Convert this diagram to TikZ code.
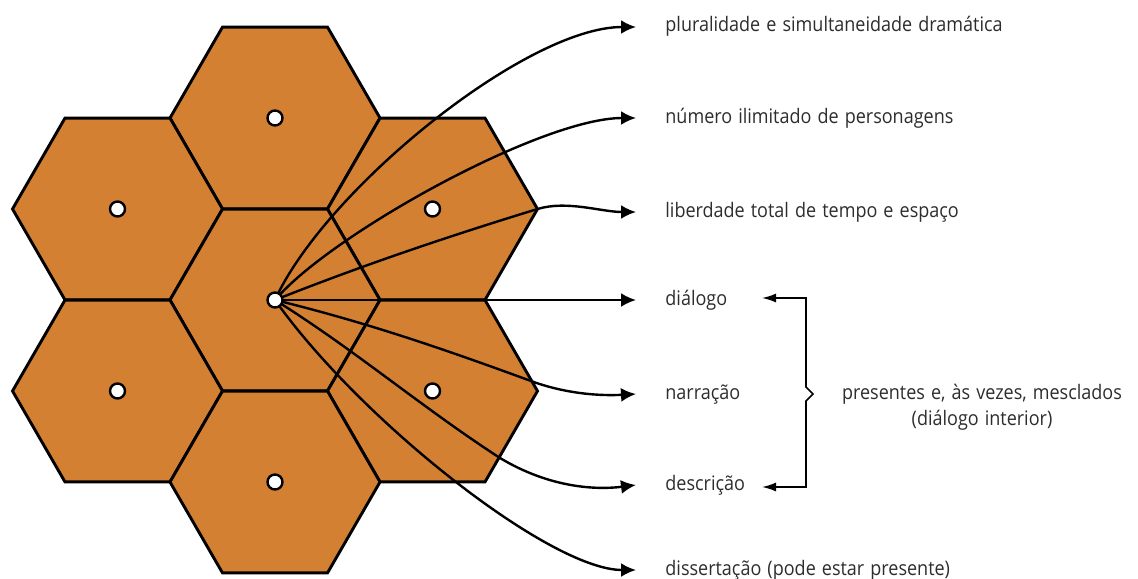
\documentclass[tikz,border=0pt]{standalone}
\usepackage{fontspec}
\setmainfont{Open Sans}[FakeStretch=0.9,WordSpace=1.3]
\usetikzlibrary{shapes.geometric}
\usetikzlibrary{arrows.meta}

\definecolor{hexfill}{RGB}{212,128,50}
\definecolor{txt}{RGB}{45,45,45}

\tikzset{
  hexa/.style={regular polygon, regular polygon sides=6, minimum size=105pt,
    inner sep=0pt, outer sep=0pt, draw=black, fill=hexfill, line width=1.45pt},
  hole/.style={circle, draw=black, fill=white, line width=1.2pt, minimum size=7.5pt, inner sep=0pt},
  ray/.style={line width=1.2pt, -{Latex[length=7.5pt,width=7pt]}},
  brk/.style={line width=0.8pt, {Latex[length=7pt,width=4.5pt]}-{Latex[length=7pt,width=4.5pt]}},
  lbl/.style={anchor=west, inner xsep=14.5pt, inner ysep=0pt, text height=7pt, text depth=2pt,
    text=txt, font=\fontsize{10}{12}\selectfont}
}

\begin{document}
\begin{tikzpicture}[x=0.5pt,y=-0.5pt]
\useasboundingbox (0,0) rectangle (1138,578);

% hexagons
\node[hexa] (hN) at (275,118) {};
\node[hexa] (hNW) at (117.5,209) {};
\node[hexa] (hNE) at (432.5,209) {};
\node[hexa] (hC) at (275,300) {};
\node[hexa] (hSW) at (117.5,391) {};
\node[hexa] (hSE) at (432.5,391) {};
\node[hexa] (hS) at (275,482) {};
\foreach \h in {hN,hNW,hNE,hSW,hSE,hS}
  \node[hole] (d\h) at (\h) {};

% labels
\node[lbl] (l1) at (636,27) {pluralidade e simultaneidade dramática};
\node[lbl] (l2) at (636,118) {número ilimitado de personagens};
\node[lbl] (l3) at (636,212) {liberdade total de tempo e espaço};
\node[lbl] (l4) at (636,300) {diálogo};
\node[lbl] (l5) at (636,394) {narração};
\node[lbl] (l6) at (636,485) {descrição};
\node[lbl] (l7) at (636,570) {dissertação (pode estar presente)};

% rays
\draw[ray] (hC.center) .. controls +(50,-110) and +(-110,0) .. (l1.west);
\draw[ray] (hC.center) .. controls +(55,-65) and +(-95,0) .. (l2.west);
\draw[ray] (hC.center) .. controls +(88,-35) and +(-88,27) .. (hNE.east)
  .. controls +(30,-9) and +(-35,0) .. (l3.west);
\draw[ray] (hC.center) -- (l4.west);
\draw[ray] (hC.center) .. controls +(90,22) and +(-90,-33) .. (531,381)
  .. controls +(35,13) and +(-35,2) .. (l5.west);
\draw[ray] (hC.center) .. controls +(80,50) and +(-80,-52) .. (500,458)
  .. controls +(50,30) and +(-40,5) .. (l6.west);
\draw[ray] (hC.center) .. controls +(85,120) and +(-86,0) .. (l7.west);
\node[hole] (dC) at (hC) {};

% bracket
\coordinate (ta) at (762,298);
\coordinate (tb) at (762,487);
\coordinate (bt) at (806,298);
\coordinate (bb) at (806,487);
\coordinate (bn) at (813,394);
\draw[brk] (ta) -- (bt) -- (806,387) -- (bn) -- (806,401) -- (bb) -- (tb);
\node[text=txt, font=\fontsize{10}{13}\selectfont, align=center] (pres) at (982,407)
  {presentes e, às vezes, mesclados\\(diálogo interior)};
\end{tikzpicture}
\end{document}
